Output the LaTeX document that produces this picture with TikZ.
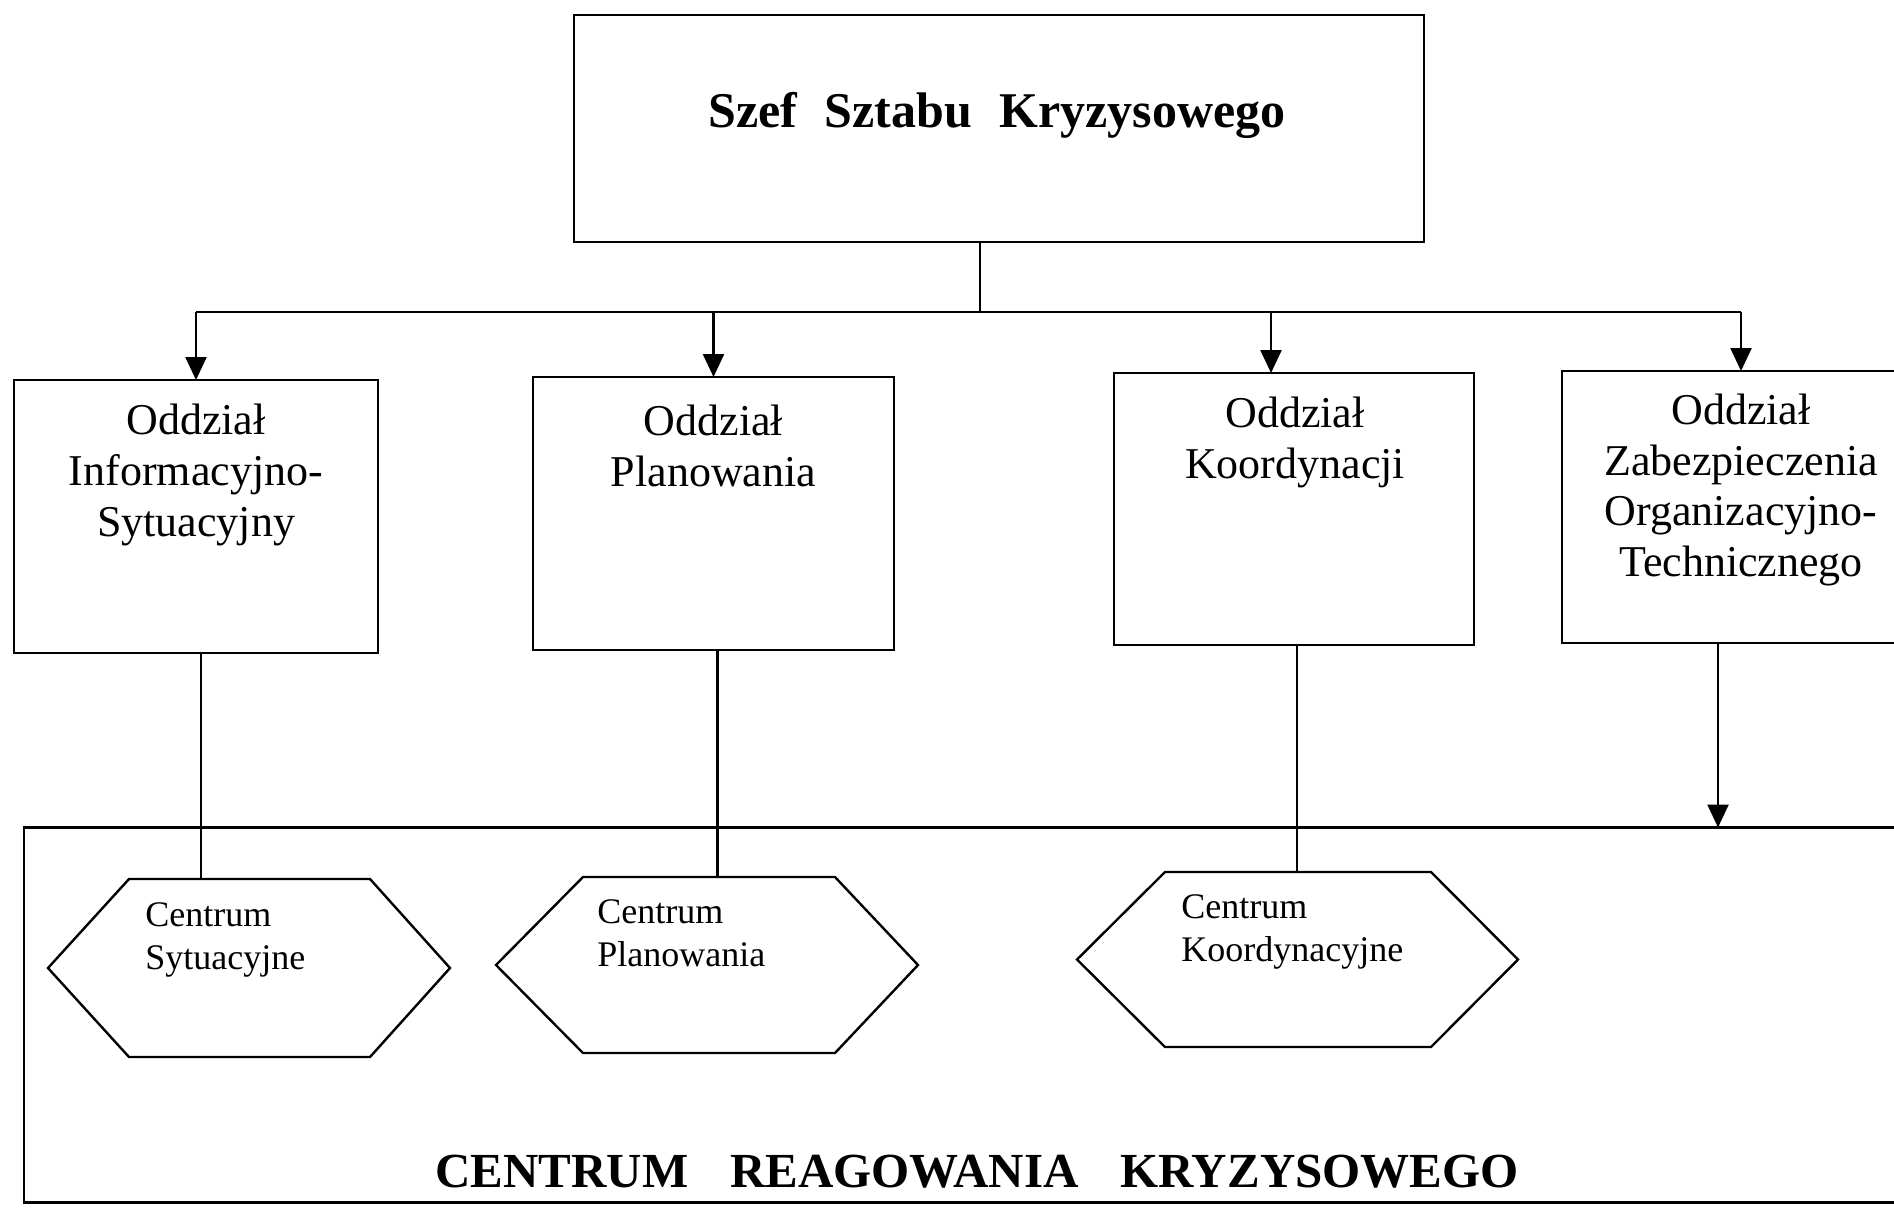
\documentclass[tikz,border=0pt]{standalone}
\usepackage{fontspec}
\setmainfont{Liberation Serif}
\usetikzlibrary{arrows.meta}

\begin{document}
\begin{tikzpicture}[x=0.5pt,y=-0.5pt,
  ln/.style={line width=1.2pt},
  arr/.style={ln,-{Triangle[length=11.5pt,width=10.5pt]}},
  unitbox/.style={draw,line width=1.2pt,inner sep=0pt,outer sep=0pt},
  hexcore/.style={inner sep=0pt,outer sep=0pt},
  dept/.style={inner sep=0pt,align=center,font=\fontsize{22}{25.3}\selectfont},
  ctrtext/.style={inner sep=0pt,align=left,font=\fontsize{18}{21.5}\selectfont},
  headtext/.style={inner sep=0pt,font=\fontsize{25}{30}\selectfont\bfseries}]

\useasboundingbox (0,0) rectangle (1894,1207);
\fill[white] (0,0) rectangle (1894,1207);

% chief of staff
\node[unitbox,minimum width=425pt,minimum height=113.5pt] (chief) at (999,128.5) {};
\node[headtext] (chieft) at (997,115) {Szef\hspace{0.55em}Sztabu\hspace{0.55em}Kryzysowego};

% departments
\node[unitbox,minimum width=182pt,minimum height=136.5pt] (d1) at (196,516.5) {};
\node[unitbox,minimum width=180.5pt,minimum height=136.5pt] (d2) at (713.5,513.5) {};
\node[unitbox,minimum width=180pt,minimum height=136pt] (d3) at (1294,509) {};
\node[unitbox,minimum width=179pt,minimum height=136pt] (d4) at (1741,507) {};

\node[dept] (d1t) at (196,475) {Oddział\\Informacyjno-\\Sytuacyjny};
\node[dept] (d2t) at (713.5,446) {Oddział\\Planowania};
\node[dept] (d3t) at (1295,442.5) {Oddział\\Koordynacji};
\node[dept] (d4t) at (1741,490) {Oddział\\Zabezpieczenia\\Organizacyjno-\\Technicznego};

% distribution line from the chief to the departments
\coordinate (bus) at (980,312);
\draw[ln] ([xshift=-9.5pt]chief.south) -- ([xshift=-9.5pt]chief.south |- bus);
\draw[ln] (d1.north |- bus) -- (d4.north |- bus);
\draw[arr] (d1.north |- bus) -- (d1.north);
\draw[arr] (d2.north |- bus) -- (d2.north);
\draw[arr] ([xshift=-11.5pt]d3.north |- bus) -- ([xshift=-11.5pt]d3.north);
\draw[arr] (d4.north |- bus) -- (d4.north);

% crisis response centre frame
\node[unitbox,minimum width=988pt,minimum height=187.5pt] (crk) at (1012,1015) {};
\node[headtext,font=\fontsize{24.5}{29}\selectfont\bfseries] (crkt) at (977,1172)
  {CENTRUM\hspace{0.85em}REAGOWANIA\hspace{0.85em}KRYZYSOWEGO};

% centres (hexagons)
\node[hexcore,minimum width=120.5pt,minimum height=89pt] (h1) at (249.5,968) {};
\node[hexcore,minimum width=126pt,minimum height=88pt] (h2) at (709,965) {};
\node[hexcore,minimum width=133pt,minimum height=87.5pt] (h3) at (1298,959.5) {};

\draw[ln] (h1.north west) -- (h1.north east) -- ([xshift=40pt]h1.east)
  -- (h1.south east) -- (h1.south west) -- ([xshift=-40.5pt]h1.west) -- cycle;
\draw[ln] (h2.north west) -- (h2.north east) -- ([xshift=41.5pt]h2.east)
  -- (h2.south east) -- (h2.south west) -- ([xshift=-43.5pt]h2.west) -- cycle;
\draw[ln] (h3.north west) -- (h3.north east) -- ([xshift=43.5pt]h3.east)
  -- (h3.south east) -- (h3.south west) -- ([xshift=-44pt]h3.west) -- cycle;

\node[ctrtext,anchor=west] (h1t) at (145,940) {Centrum\\Sytuacyjne};
\node[ctrtext,anchor=west] (h2t) at (597,933) {Centrum\\Planowania};
\node[ctrtext,anchor=west] (h3t) at (1181,931.5) {Centrum\\Koordynacyjne};

% links from departments to centres
\draw[ln] ([xshift=2.5pt]d1.south) coordinate (l1) -- (l1 |- h1.north);
\draw[ln] ([xshift=2pt]d2.south) coordinate (l2) -- (l2 |- h2.north);
\draw[ln] ([xshift=1.5pt]d3.south) coordinate (l3) -- (l3 |- h3.north);
\draw[arr] ([xshift=-11.5pt]d4.south) coordinate (l4) -- (l4 |- crk.north);
\end{tikzpicture}
\end{document}
